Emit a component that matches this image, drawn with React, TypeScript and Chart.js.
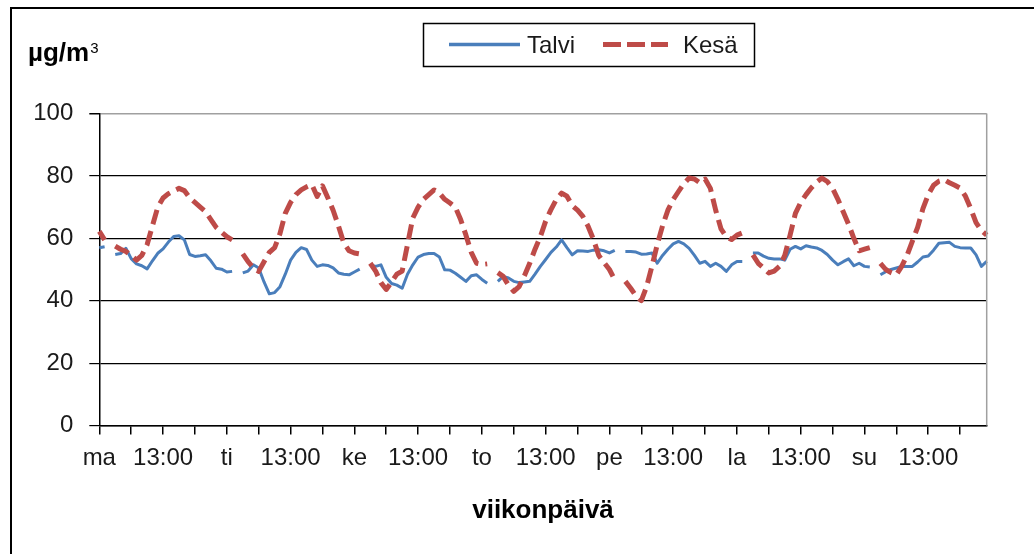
import React, { useEffect, useRef } from 'react';
import { Chart, registerables } from 'chart.js';

Chart.register(...registerables);

const FONT = '"Liberation Sans", Arial, sans-serif';

const days = ['ma', 'ti', 'ke', 'to', 'pe', 'la', 'su'];
const hours = [1, 2, 3, 4, 5, 6, 7, 8, 9, 10, 11, 12, 13, 14, 15, 16, 17, 18, 19, 20, 21, 22, 23, 24];
const labeledHour = 13;

const yMin = 0;
const yMax = 100;
const yStep = 20;

const seriesNames = ['Talvi', 'Kesä'];

const talvi: (number | null)[] = [
  // ma
  57, 57.3, null, 54.8, 55.1, 56.8, 53.5, 51.8, 51.2, 50.2, 52.8, 55.2,
  56.6, 58.8, 60.6, 60.8, 59.5, 54.8, 54.2, 54.4, 54.7, 52.8, 50.4, 50.1,
  // ti
  49.2, 49.4, null, 48.9, 49.5, 51.5, 50.5, 46, 42.2, 42.6, 44.5, 48.5,
  53, 55.5, 57, 56.4, 53, 51, 51.5, 51.3, 50.5, 48.9, 48.5, 48.3,
  // ke
  49.2, 50.1, null, 51.5, 51, 51.5, 47.5, 45.5, 45, 44, 48.5, 51.5,
  54, 54.8, 55.1, 55.1, 54, 49.9, 49.8, 48.8, 47.5, 46.2, 48, 48.3,
  // to
  46.8, 45.6, null, 46.2, 47.8, 47.3, 46.2, 45.8, 46, 46.2, 48.5, 51,
  53.2, 55.5, 57.2, 59.5, 57, 54.7, 56, 55.9, 55.8, 56.2, 56.3, 56,
  // pe
  55.3, 56.1, null, 55.8, 55.8, 55.6, 54.9, 55, 55.3, 52, 54.5, 56.5,
  58.2, 59, 58.2, 56.8, 54.5, 52, 52.6, 51, 52, 51, 49.4, 51.5,
  // la
  52.6, 52.6, null, 55.3, 55.3, 54.3, 53.6, 53.4, 53.4, 53, 56.5, 57.4,
  56.6, 57.6, 57.2, 56.9, 56.1, 54.8, 53, 51.5, 52.5, 53.4, 51.2, 52,
  // su
  51, 50.8, null, 48.3, 49.3, 50, 50.5, 51, 51, 51, 52.4, 54,
  54.3, 56.2, 58.4, 58.6, 58.7, 57.4, 57, 56.9, 56.9, 54.7, 51, 52.6,
];

const kesa: (number | null)[] = [
  // ma
  62.2, 59.5, null, 57.5, 56.5, 55.8, 54.5, 53, 54.5, 58, 64, 70,
  72.9, 74.3, 75.2, 76, 75.3, 73, 71.5, 70, 68.5, 66, 63.5, 62,
  // ti
  60.5, 59.5, null, 55, 52.5, 50.5, 49.4, 52.5, 55.5, 57, 61.5, 68,
  71.5, 74, 75.5, 76.5, 77.2, 73.4, 76.8, 73, 69, 64, 58.5, 56,
  // ke
  55.3, 55, null, 52, 49.5, 45.8, 43.6, 46, 48.5, 49.5, 58, 66.5,
  70, 72.5, 74, 75.5, 74.5, 72.5, 71.3, 70, 66, 61, 55.5, 52,
  // to
  51.6, 51.8, null, 49, 47.8, 45, 43, 44.5, 48, 52, 56.5, 60.5,
  65.5, 69.2, 72.4, 74.5, 73.5, 70.5, 69, 67, 63.8, 59.6, 54.5, 52.2,
  // pe
  50, 46.7, null, 46.2, 44, 41.5, 40, 44.5, 51, 58, 64, 69,
  72.4, 75, 77.5, 79.3, 79, 77.8, 79, 76, 69, 63, 60.5, 59.6,
  // la
  61, 61.7, null, 54.7, 52, 50.5, 48.9, 49.5, 51, 54.5, 61, 68,
  71.5, 74, 76.2, 78, 79.3, 78.2, 76, 72.5, 68.5, 64.5, 60, 56,
  // su
  56.5, 57, null, 52, 50, 49, 48.3, 51, 54.5, 59, 63.5, 69.5,
  74, 77, 78.3, 78.8, 77.8, 77, 76.1, 73.5, 69.5, 65, 62.5, 61,
];

const categories = days.flatMap((d) => hours.map((h) => `${d} ${h}:00`));

const BLUE = '#4a7ebb';
const RED = '#be4b48';

const decorPlugin = {
  id: 'decor',
  beforeDraw(chart: any) {
    const { ctx, width, height } = chart;
    ctx.save();
    ctx.fillStyle = '#ffffff';
    ctx.fillRect(0, 0, width, height);
    ctx.strokeStyle = '#000';
    ctx.lineWidth = 2;
    ctx.beginPath();
    ctx.moveTo(11, height + 5);
    ctx.lineTo(11, 8);
    ctx.lineTo(width + 5, 8);
    ctx.stroke();
    ctx.restore();
  },
  afterDraw(chart: any) {
    const { ctx, chartArea } = chart;
    ctx.save();
    // plot area right border
    ctx.strokeStyle = '#a0a0a0';
    ctx.lineWidth = 1.5;
    ctx.beginPath();
    ctx.moveTo(chartArea.right, chartArea.top);
    ctx.lineTo(chartArea.right, chartArea.bottom);
    ctx.stroke();

    // unit
    ctx.fillStyle = '#000';
    ctx.textBaseline = 'alphabetic';
    ctx.textAlign = 'left';
    ctx.font = `bold 26px ${FONT}`;
    const unit = 'µg/m';
    ctx.fillText(unit, 28, 61);
    const w = ctx.measureText(unit).width;
    ctx.font = `15px ${FONT}`;
    ctx.fillText('3', 28 + w + 1, 53);

    // legend
    ctx.strokeStyle = '#000';
    ctx.lineWidth = 1.5;
    ctx.strokeRect(423.5, 23.5, 331, 43);
    ctx.lineWidth = 3.5;
    ctx.strokeStyle = BLUE;
    ctx.beginPath();
    ctx.moveTo(449, 44.5);
    ctx.lineTo(520, 44.5);
    ctx.stroke();
    ctx.strokeStyle = RED;
    ctx.lineWidth = 5;
    ctx.setLineDash([18, 6]);
    ctx.beginPath();
    ctx.moveTo(603, 44.5);
    ctx.lineTo(668, 44.5);
    ctx.stroke();
    ctx.setLineDash([]);
    ctx.fillStyle = '#1a1a1a';
    ctx.font = `24px ${FONT}`;
    ctx.fillText(seriesNames[0], 527, 53);
    ctx.fillText(seriesNames[1], 683, 53);
    ctx.restore();
  },
};

export default function App() {
  const ref = useRef<HTMLCanvasElement | null>(null);

  useEffect(() => {
    if (!ref.current) return;
    const chart = new Chart(ref.current, {
      type: 'line',
      data: {
        labels: categories,
        datasets: [
          {
            label: seriesNames[0],
            data: talvi,
            borderColor: BLUE,
            backgroundColor: BLUE,
            borderWidth: 3,
            pointRadius: 0,
            tension: 0,
            spanGaps: false,
            borderJoinStyle: 'round',
            order: 1,
          },
          {
            label: seriesNames[1],
            data: kesa,
            borderColor: RED,
            backgroundColor: RED,
            borderWidth: 5,
            borderDash: [15, 7],
            pointRadius: 0,
            tension: 0,
            spanGaps: false,
            borderJoinStyle: 'round',
            order: 0,
          },
        ],
      },
      options: {
        animation: false,
        responsive: false,
        maintainAspectRatio: false,
        layout: { padding: { top: 113.5, right: 47.3, left: 0, bottom: 0 } },
        plugins: {
          legend: { display: false },
          tooltip: { enabled: false },
          title: { display: false },
        },
        scales: {
          x: {
            type: 'category',
            offset: false,
            afterFit(scale: any) {
              scale.height = 128.5;
            },
            border: { display: true, color: '#000', width: 1.5 },
            grid: {
              display: true,
              drawOnChartArea: false,
              drawTicks: true,
              tickLength: 9,
              offset: false,
              color: (c: any) => (c.index % 6 === 0 ? '#000' : 'rgba(0,0,0,0)'),
              lineWidth: 1.5,
            },
            ticks: {
              autoSkip: false,
              maxRotation: 0,
              minRotation: 0,
              padding: 9,
              color: '#1a1a1a',
              font: { family: FONT, size: 24 },
              callback: (_v: any, i: number) => {
                if (i % 24 === 0) return days[i / 24];
                if (hours[i % 24] === labeledHour) return `${labeledHour}:00`;
                return '';
              },
            },
            title: {
              display: true,
              text: 'viikonpäivä',
              color: '#000',
              font: { family: FONT, size: 26, weight: 'bold' },
              padding: { top: 0, bottom: 28 },
            },
          },
          y: {
            type: 'linear',
            min: yMin,
            max: yMax,
            afterFit(scale: any) {
              scale.width = 99.3;
            },
            border: { display: true, color: '#000', width: 1.5 },
            grid: {
              color: (c: any) => (c.tick && c.tick.value === yMax ? '#a0a0a0' : '#000'),
              lineWidth: (c: any) => (c.tick && c.tick.value === yMax ? 1.5 : 1.2),
              tickColor: '#000',
              tickLength: 10,
              drawTicks: true,
            },
            ticks: {
              stepSize: yStep,
              padding: 16,
              color: '#1a1a1a',
              font: { family: FONT, size: 24 },
            },
          },
        },
      },
      plugins: [decorPlugin],
    } as any);
    return () => chart.destroy();
  }, []);

  return (
    <div style={{ position: 'fixed', left: 0, top: 0, width: 1034, height: 554, background: '#fff' }}>
      <canvas ref={ref} width={1034} height={554} style={{ display: 'block' }} />
    </div>
  );
}
